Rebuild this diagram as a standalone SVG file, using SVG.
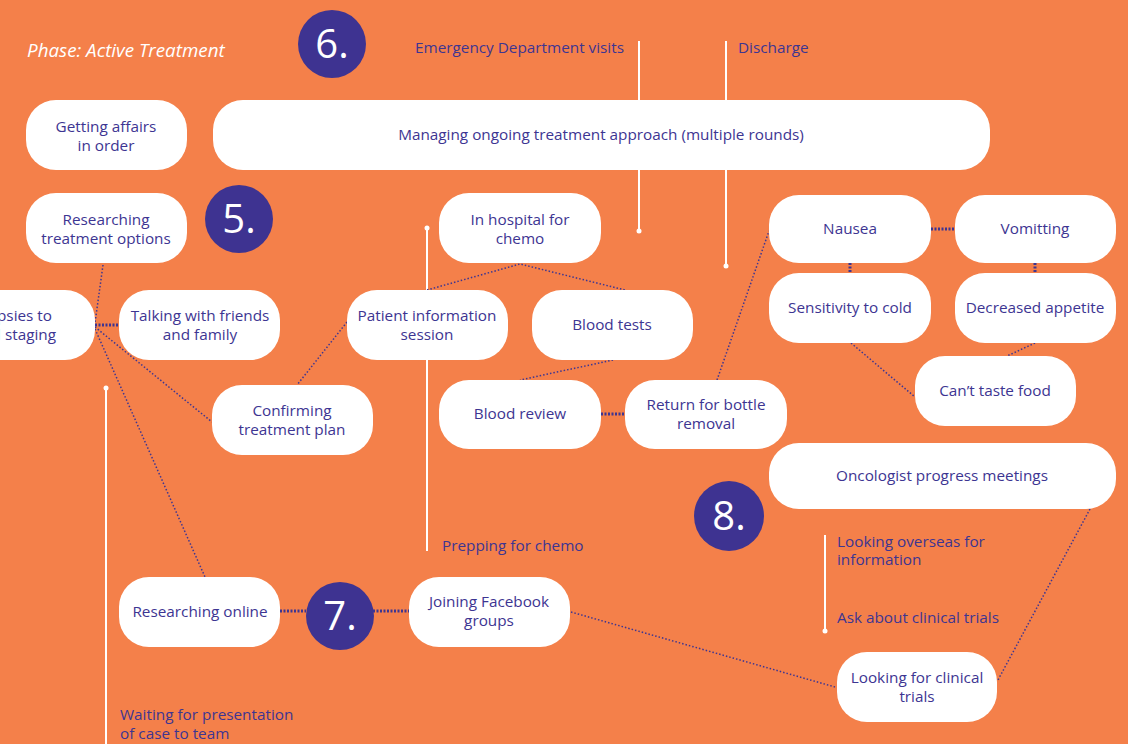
<svg xmlns="http://www.w3.org/2000/svg" width="1128" height="744" viewBox="0 0 1128 744">
<style>
.bg{fill:#F4804A}
.node rect{fill:#fff}
.t{font-family:"Open Sans","Noto Sans",sans-serif;font-size:15.3px;fill:#3D3592;text-anchor:middle}
.lbl{font-family:"Open Sans","Noto Sans",sans-serif;font-size:15.3px;fill:#3D3592}
.num circle{fill:#3E3391}
.num text{font-family:"Open Sans","Noto Sans",sans-serif;font-size:40px;fill:#fff;text-anchor:middle}
.wl{stroke:#fff;stroke-width:2;fill:none}
.wd{fill:#fff}
.dt{stroke:#3D3592;stroke-width:1.5;stroke-dasharray:1.5 2;fill:none}
.dk{stroke:#3D3592;stroke-width:3;stroke-dasharray:2 1.5;fill:none}
</style>
<rect class="bg" x="0" y="0" width="1128" height="744"/>
<text x="27" y="57" font-family="Open Sans, Noto Sans, sans-serif" font-size="18.8" font-style="italic" fill="#fff">Phase: Active Treatment</text>

<g id="timelines">
<line class="wl" x1="639" y1="41" x2="639" y2="231"/><circle class="wd" cx="639" cy="231" r="2.5"/>
<line class="wl" x1="726" y1="41" x2="726" y2="266"/><circle class="wd" cx="726" cy="266" r="2.5"/>
<line class="wl" x1="427" y1="228" x2="427" y2="551"/><circle class="wd" cx="427" cy="228" r="2.5"/>
<line class="wl" x1="106" y1="388" x2="106" y2="744"/><circle class="wd" cx="106" cy="388" r="2.5"/>
<line class="wl" x1="825" y1="535" x2="825" y2="631"/><circle class="wd" cx="825" cy="631" r="2.5"/>
</g>

<g id="connectors">
<line class="dt" x1="103" y1="265" x2="95" y2="323"/>
<line class="dk" x1="95" y1="325" x2="119" y2="325"/>
<line class="dt" x1="95" y1="327" x2="212" y2="422"/>
<line class="dt" x1="95" y1="329" x2="205" y2="577"/>
<line class="dt" x1="347" y1="322" x2="297" y2="385"/>
<polyline class="dt" points="427,290 520,264 625,290"/>
<line class="dt" x1="613" y1="360" x2="520" y2="380"/>
<line class="dk" x1="601" y1="414" x2="625" y2="414"/>
<line class="dt" x1="717" y1="380" x2="769" y2="231"/>
<line class="dk" x1="931" y1="229" x2="955" y2="229"/>
<line class="dk" x1="850" y1="263" x2="850" y2="273"/>
<line class="dk" x1="1035" y1="263" x2="1035" y2="273"/>
<line class="dt" x1="851" y1="343" x2="915" y2="397"/>
<line class="dt" x1="1035" y1="343" x2="1007" y2="356"/>
<line class="dk" x1="280" y1="611" x2="306" y2="611"/>
<line class="dk" x1="373" y1="611" x2="409" y2="611"/>
<line class="dt" x1="571" y1="612" x2="835" y2="687"/>
<line class="dt" x1="1090" y1="509" x2="998" y2="680"/>
</g>

<g id="labels">
<text class="lbl" x="415" y="53">Emergency Department visits</text>
<text class="lbl" x="738" y="53">Discharge</text>
<text class="lbl" x="442" y="551">Prepping for chemo</text>
<text class="lbl" x="120" y="720">Waiting for presentation</text>
<text class="lbl" x="120" y="739">of case to team</text>
<text class="lbl" x="837" y="547">Looking overseas for</text>
<text class="lbl" x="837" y="565">information</text>
<text class="lbl" x="837" y="623">Ask about clinical trials</text>
</g>

<g id="n-affairs" class="node"><rect x="26" y="100" width="161" height="70" rx="30"/><text class="t" x="106" y="132">Getting affairs</text><text class="t" x="106" y="151">in order</text></g>
<g id="n-managing" class="node"><rect x="213" y="100" width="777" height="70" rx="30"/><text class="t" x="601" y="140">Managing ongoing treatment approach (multiple rounds)</text></g>
<g id="n-research-options" class="node"><rect x="26" y="193" width="161" height="70" rx="30"/><text class="t" x="106" y="225">Researching</text><text class="t" x="106" y="244">treatment options</text></g>
<g id="n-biopsies" class="node"><rect x="-66" y="290" width="161" height="70" rx="30"/><text class="t" x="52" y="321" style="text-anchor:end">Biopsies to</text><text class="t" x="56" y="340" style="text-anchor:end">and staging</text></g>
<g id="n-talking" class="node"><rect x="119" y="290" width="161" height="70" rx="30"/><text class="t" x="200" y="321">Talking with friends</text><text class="t" x="200" y="340">and family</text></g>
<g id="n-confirming" class="node"><rect x="212" y="385" width="161" height="70" rx="30"/><text class="t" x="292" y="416">Confirming</text><text class="t" x="292" y="435">treatment plan</text></g>
<g id="n-patient-info" class="node"><rect x="347" y="290" width="161" height="70" rx="30"/><text class="t" x="427" y="321">Patient information</text><text class="t" x="427" y="340">session</text></g>
<g id="n-hospital" class="node"><rect x="439" y="193" width="162" height="70" rx="30"/><text class="t" x="520" y="225">In hospital for</text><text class="t" x="520" y="244">chemo</text></g>
<g id="n-blood-tests" class="node"><rect x="532" y="290" width="161" height="70" rx="30"/><text class="t" x="612" y="330">Blood tests</text></g>
<g id="n-blood-review" class="node"><rect x="439" y="380" width="162" height="69" rx="30"/><text class="t" x="520" y="419">Blood review</text></g>
<g id="n-return" class="node"><rect x="625" y="380" width="162" height="69" rx="30"/><text class="t" x="706" y="410">Return for bottle</text><text class="t" x="706" y="429">removal</text></g>
<g id="n-nausea" class="node"><rect x="769" y="195" width="162" height="68" rx="30"/><text class="t" x="850" y="234">Nausea</text></g>
<g id="n-vomitting" class="node"><rect x="955" y="195" width="161" height="68" rx="30"/><text class="t" x="1035" y="234">Vomitting</text></g>
<g id="n-cold" class="node"><rect x="769" y="273" width="162" height="70" rx="30"/><text class="t" x="850" y="313">Sensitivity to cold</text></g>
<g id="n-appetite" class="node"><rect x="955" y="273" width="161" height="70" rx="30"/><text class="t" x="1035" y="313">Decreased appetite</text></g>
<g id="n-taste" class="node"><rect x="915" y="356" width="161" height="70" rx="30"/><text class="t" x="995" y="396">Can’t taste food</text></g>
<g id="n-oncologist" class="node"><rect x="769" y="443" width="347" height="66" rx="30"/><text class="t" x="942" y="481">Oncologist progress meetings</text></g>
<g id="n-clinical" class="node"><rect x="837" y="652" width="160" height="70" rx="30"/><text class="t" x="917" y="683">Looking for clinical</text><text class="t" x="917" y="702">trials</text></g>
<g id="n-research-online" class="node"><rect x="119" y="577" width="161" height="70" rx="30"/><text class="t" x="200" y="617">Researching online</text></g>
<g id="n-facebook" class="node"><rect x="409" y="577" width="161" height="70" rx="30"/><text class="t" x="489" y="607">Joining Facebook</text><text class="t" x="489" y="626">groups</text></g>

<g id="num5" class="num"><circle cx="239" cy="219" r="34"/><text x="239" y="233">5.</text></g>
<g id="num6" class="num"><circle cx="332" cy="44" r="34"/><text x="332" y="58">6.</text></g>
<g id="num7" class="num"><circle cx="340" cy="616" r="34"/><text x="340" y="630">7.</text></g>
<g id="num8" class="num"><circle cx="729" cy="516" r="35"/><text x="729" y="530">8.</text></g>
</svg>
